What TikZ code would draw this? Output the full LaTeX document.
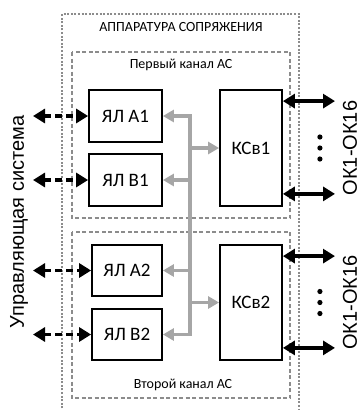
\documentclass[tikz,border=0pt]{standalone}
\usepackage{fontspec}
\setmainfont{Carlito}
\newfontfamily\sidefont{Liberation Sans}
\usepackage{tikz}
\usetikzlibrary{arrows.meta,positioning,calc}
\definecolor{frameink}{RGB}{140,140,140}
\definecolor{busgray}{RGB}{166,166,166}
\colorlet{boxink}{black}

\begin{document}
\begin{tikzpicture}[
  x=1pt, y=-1pt,
  unit/.style={draw=boxink, line width=1.8pt, minimum width=73pt,
    minimum height=52pt, inner sep=0pt, font=\fontsize{19}{22}\selectfont},
  frame/.style={draw=frameink, line width=1.5pt, dash pattern=on 2pt off 1.6pt},
  chan/.style={draw=frameink, line width=1.2pt, dash pattern=on 4pt off 2.5pt},
  bus/.style={busgray, line width=3.4pt},
  bustip/.style={-{Triangle[length=11pt,width=12pt]}},
  link/.style={line width=3.5pt,
    {Triangle[length=12pt,width=14pt]}-{Triangle[length=12pt,width=14pt]}},
  lbl/.style={font=\fontsize{14}{16}\selectfont},
  side/.style={font=\sidefont\fontsize{20}{24}\selectfont, rotate=90},
]
  \useasboundingbox (0,0) rectangle (362,410);

  \draw[frame] (62,412) -- (62,14) -- (299,14) -- (299,412);
  \draw[chan] (72,52) rectangle (290,218);
  \draw[chan] (72,232) rectangle (290,398);

  \node[lbl] (title) at (181,27) {АППАРАТУРА СОПРЯЖЕНИЯ};
  \node[lbl] (ch1) at (181,65) {Первый канал АС};
  \node[lbl] (ch2) at (183,385) {Второй канал АС};

  \node[unit] (la1) at (125.5,116) {ЯЛ А1};
  \node[unit] (lb1) at (125.5,180) {ЯЛ В1};
  \node[unit, minimum width=62pt, minimum height=116pt] (ks1) at (251,148) {КСв1};
  \node[unit, minimum width=70pt, minimum height=51pt] (la2) at (127,270.5) {ЯЛ А2};
  \node[unit, minimum width=70pt, minimum height=51pt] (lb2) at (127,334.5) {ЯЛ В2};
  \node[unit, minimum width=62pt, minimum height=115pt] (ks2) at (251,302.5) {КСв2};

  \coordinate (busx) at (190,0);
  \draw[bus, line cap=rect] (la1.east -| busx) -- (lb2.east -| busx);
  \foreach \n in {la1,lb1,la2,lb2}
    \draw[bus, bustip] (\n.east -| busx) -- (\n.east);
  \foreach \n in {ks1,ks2}
    \draw[bus, bustip] (\n.west -| busx) -- (\n.west);

  \coordinate (csx) at (33,0);
  \foreach \n in {la1,lb1,la2,lb2}
    \draw[link, dash pattern=on 7pt off 4pt] (\n.west -| csx) -- (\n.west);

  \coordinate (okx) at (335,0);
  \foreach \n in {ks1,ks2} {
    \coordinate (\n a) at ($(\n.north east)+(0,12)$);
    \coordinate (\n b) at ($(\n.south east)+(0,-13)$);
    \draw[link] (\n a) -- (\n a -| okx);
    \draw[link] (\n b) -- (\n b -| okx);
    \foreach \d in {-11,0,11}
      \fill ($(\n.east)+(37,\d)$) circle (2.6pt);
    \node[side] (ok\n) at ($(\n.east)+(67,0)$) {ОК1-ОК16};
  }

  \node[side] (ctrl) at (19,222) {Управляющая система};
\end{tikzpicture}
\end{document}
